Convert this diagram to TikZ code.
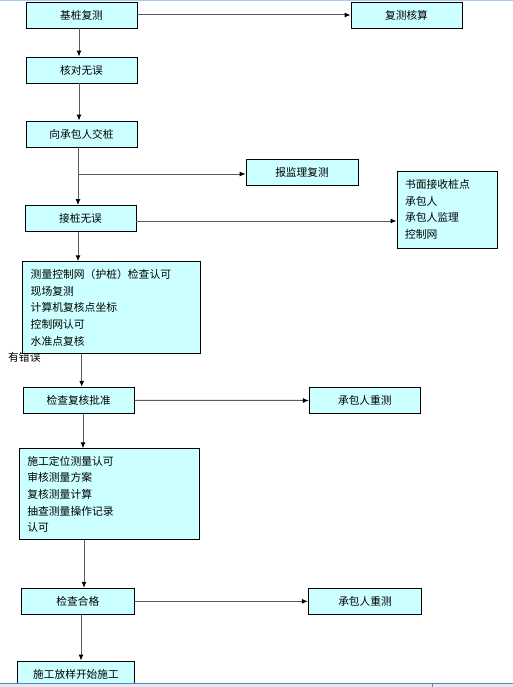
\documentclass[tikz,border=0pt]{standalone}
\usepackage{fontspec}
\newfontfamily\cjk{Noto Sans CJK SC}
\usetikzlibrary{arrows.meta}
\definecolor{boxfill}{HTML}{CCFFFF}
\definecolor{linegray}{HTML}{5A5A5A}
\definecolor{topblue}{HTML}{A9C6EE}
\definecolor{barblue}{HTML}{5E82B8}
\definecolor{barfill}{HTML}{E2E9F3}
\begin{document}
\begin{tikzpicture}[x=1pt,y=-1pt,
  box/.style={draw=black, line width=0.9pt, fill=boxfill, minimum width=111pt, minimum height=26pt, inner sep=0pt, font=\cjk\fontsize{10.7}{12}\selectfont},
  listbox/.style={draw=black, line width=0.9pt, fill=boxfill, inner xsep=8pt, inner ysep=0pt, align=left, font=\cjk\fontsize{10.8}{16.6}\selectfont},
  conn/.style={draw=linegray, line width=1pt, -{Latex[length=6pt,width=5pt,black]}}]
\useasboundingbox (0,0) rectangle (513,687);
\fill[white] (0,0) rectangle (513,687);
\draw[topblue, line width=1pt] (0,0.5) -- (513,0.5);

\node[box] (b1) at (81.5,15) {基桩复测};
\node[box] (b2) at (406.5,15) {复测核算};
\node[box] (b3) at (81.5,70) {核对无误};
\node[box] (b4) at (81.5,134) {向承包人交桩};
\node[box, minimum width=112pt] (b5) at (302,172) {报监理复测};
\node[box] (b6) at (80.5,218.5) {接桩无误};
\node[listbox, text width=84pt, minimum height=77pt] (b7) at (447,209.5) {书面接收桩点\\承包人\\承包人监理\\控制网};
\node[anchor=west, inner sep=0pt, font=\cjk\fontsize{10.8}{12}\selectfont] (err) at (8,357) {有错误};
\node[listbox, text width=161.6pt, minimum height=92pt] (b8) at (111.5,307.7) {测量控制网（护桩）检查认可\\现场复测\\计算机复核点坐标\\控制网认可\\水准点复核};
\node[box] (b9) at (78.7,400.3) {检查复核批准};
\node[box] (b10) at (364.8,400.5) {承包人重测};
\node[listbox, text width=164pt, minimum height=91pt] (b11) at (109.3,494.3) {施工定位测量认可\\审核测量方案\\复核测量计算\\抽查测量操作记录\\认可};
\node[box, minimum width=113pt] (b12) at (77.8,601.3) {检查合格};
\node[box, minimum width=113.4pt] (b13) at (365,601.3) {承包人重测};
\node[box, minimum width=116.6pt] (b14) at (76,674) {施工放样开始施工};

\draw[conn] (b1.east) -- (b2.west);
\draw[conn] ([xshift=-2.5pt]b1.south) -- ([xshift=-2.5pt]b3.north);
\draw[conn] ([xshift=-2.5pt]b3.south) -- ([xshift=-2.5pt]b4.north);
\draw[conn] ([xshift=-3.5pt]b4.south) -- ([xshift=-3.5pt]b4.south |- b6.north);
\coordinate (br) at ([xshift=-3.5pt,yshift=-2pt]b4.south |- b5.west);
\draw[conn] (br) -- (br -| b5.west);
\draw[conn] ([yshift=-2.5pt]b6.east) -- ([yshift=-2.5pt]b6.east -| b7.west);
\draw[conn] ([xshift=-2.5pt]b6.south) -- ([xshift=-2.5pt]b6.south |- b8.north);
\draw[conn] ([xshift=3pt]b9.north |- b8.south) -- ([xshift=3pt]b9.north);
\draw[conn] (b9.east) -- (b10.west);
\draw[conn] ([xshift=4.3pt]b9.south) -- ([xshift=4.3pt]b9.south |- b11.north);
\draw[conn] ([xshift=6.2pt]b12.north |- b11.south) -- ([xshift=6.2pt]b12.north);
\draw[conn] (b12.east) -- (b13.west);
\draw[conn] ([xshift=3.2pt]b12.south) -- ([xshift=3.2pt]b12.south |- b14.north);

\fill[barfill] (0,683) rectangle (513,687);
\draw[barblue, line width=1pt] (0,683.5) -- (513,683.5);
\draw[barblue, line width=0.8pt] (432,684) -- (432,687);
\end{tikzpicture}
\end{document}
